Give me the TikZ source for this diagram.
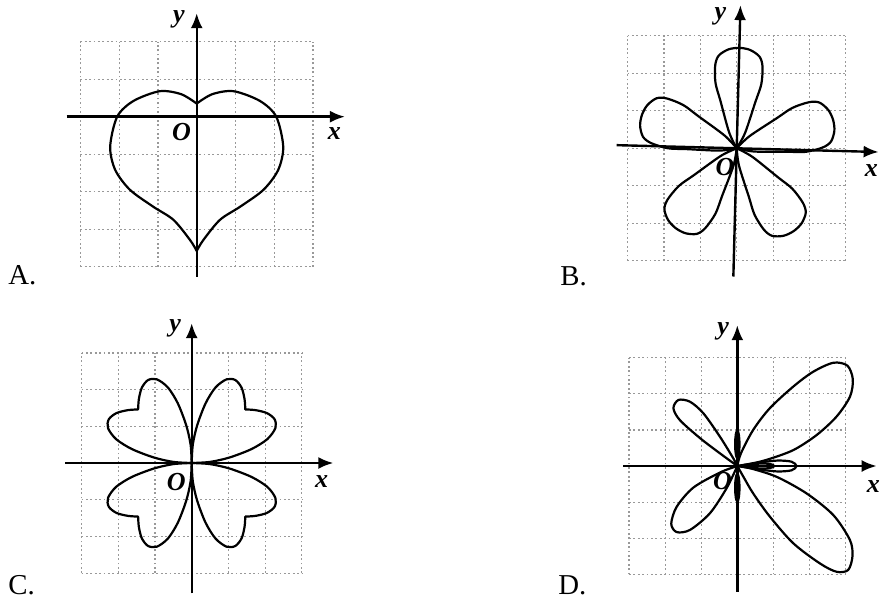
\documentclass[tikz,border=0pt]{standalone}
\usepackage{fontspec}
\setmainfont{Liberation Serif}
\usetikzlibrary{arrows.meta}

\tikzset{
  gridline/.style={black!40, line width=0.6pt, dash pattern=on 0.9pt off 1.3pt},
  axis/.style={line width=1.2pt, -{Latex[length=7.5pt,width=6pt]}},
  curve/.style={line width=1.1pt, line cap=round, line join=round},
  axlabel/.style={font=\fontsize{13}{14}\selectfont\bfseries\itshape, inner sep=0pt},
  choice/.style={font=\fontsize{14.4}{16}\selectfont, anchor=base west, inner sep=0pt}
}

\begin{document}
\begin{tikzpicture}
\useasboundingbox (0,0) rectangle (440.5pt,303pt);

% A: heart
\begin{scope}[shift={(98.35pt,244.65pt)}, x=19.4pt, y=18.75pt]
  \draw[gridline, step=1] (-3,-4) grid (3,2);
  \draw[axis] (-3.35,0) -- (3.82,0);
  \draw[axis] (0,-4.27) -- (0,2.76);
  \foreach \s in {1,-1}
    \draw[curve, xscale=\s] plot[smooth] coordinates {(0,-3.58) (-0.17,-3.29) (-0.6,-2.75) (-1.12,-2.4) (-1.72,-1.95) (-2.1,-1.42) (-2.23,-0.8) (-2.05,0) (-1.63,0.42) (-0.95,0.68) (-0.4,0.6) (0,0.35)};
  \node[axlabel] (yA) at (-0.46,2.6) {y};
  \node[axlabel] (oA) at (-0.39,-0.4) {O};
  \node[axlabel] (xA) at (3.55,-0.44) {x};
\end{scope}

% B: five petals
\begin{scope}[shift={(368.35pt,228.85pt)}, x=18.2pt, y=18.75pt]
  \draw[gridline, step=1] (-3,-3) grid (3,3);
  \begin{scope}[rotate=-1.5]
    \draw[axis] (-3.3,0) -- (3.9,0);
    \draw[axis] (0,-3.42) -- (0,3.82);
    \foreach \a in {0,72,144,216,288}
      \draw[curve, rotate=\a] plot[smooth] coordinates {(0,0) (0.22,0.42) (0.48,1.25) (0.63,1.73) (0.65,2.2) (0.56,2.46) (0.3,2.63) (0,2.68) (-0.3,2.63) (-0.56,2.46) (-0.65,2.2) (-0.63,1.73) (-0.48,1.25) (-0.22,0.42) (0,0)};
  \end{scope}
  \node[axlabel] (yB) at (-0.45,3.52) {y};
  \node[axlabel] (oB) at (-0.32,-0.49) {O};
  \node[axlabel] (xB) at (3.7,-0.6) {x};
\end{scope}

% C: four hearts
\begin{scope}[shift={(95.85pt,71.5pt)}, x=18.35pt, y=18.35pt]
  \draw[gridline, step=1] (-3,-3) grid (3,3);
  \draw[axis] (-3.45,0) -- (3.86,0);
  \draw[axis] (0,-3.55) -- (0,3.81);
  \foreach \sx/\sy in {1/1,-1/1,-1/-1,1/-1}
    \draw[curve, xscale=\sx, yscale=\sy]
      plot[smooth] coordinates {(0,0) (0.03,0.5) (0.15,1.03) (0.38,1.63) (0.65,2.06) (0.95,2.28) (1.19,2.26) (1.36,2.05) (1.44,1.74) (1.46,1.46)}
      plot[smooth] coordinates {(1.46,1.46) (1.74,1.44) (2.05,1.36) (2.26,1.19) (2.28,0.95) (2.06,0.65) (1.63,0.38) (1.03,0.15) (0.5,0.03) (0,0)};
  \node[axlabel] (yC) at (-0.45,3.67) {y};
  \node[axlabel] (oC) at (-0.42,-0.51) {O};
  \node[axlabel] (xC) at (3.54,-0.51) {x};
\end{scope}

% D: uneven petals
\begin{scope}[shift={(368.65pt,70pt)}, x=18.05pt, y=18.05pt]
  \draw[gridline, step=1] (-3,-3) grid (3,3);
  \draw[axis] (-3.16,0) -- (3.86,0);
  \draw[axis] (0,-3.49) -- (0,3.9);
  \draw[curve] plot[smooth] coordinates {(0,0) (0.1,0.35) (0.44,1.0) (0.9,1.6) (1.55,2.2) (2.1,2.61) (2.66,2.86) (3.05,2.78) (3.2,2.4) (3.12,1.92) (2.75,1.37) (2.2,0.86) (1.55,0.44) (0.81,0.17) (0.35,0.06) (0,0)};
  \draw[curve] plot[smooth] coordinates {(0,0) (0.17,-0.3) (0.44,-0.76) (0.9,-1.4) (1.55,-2.14) (2.29,-2.7) (2.75,-2.93) (3.07,-2.88) (3.19,-2.5) (3.12,-2.05) (2.66,-1.36) (1.92,-0.76) (1.09,-0.3) (0.35,-0.06) (0,0)};
  \draw[curve] plot[smooth] coordinates {(0,0) (-0.48,0.35) (-1.03,0.77) (-1.59,1.27) (-1.77,1.6) (-1.63,1.83) (-1.31,1.78) (-0.94,1.46) (-0.48,0.81) (-0.11,0.21) (0,0)};
  \draw[curve] plot[smooth] coordinates {(0,0) (-0.48,-0.18) (-1.22,-0.6) (-1.68,-1.13) (-1.83,-1.6) (-1.68,-1.83) (-1.31,-1.77) (-0.76,-1.31) (-0.3,-0.62) (0,0)};
  % small loops near the origin
  \draw[curve] plot[smooth] coordinates {(0,0) (0.5,0.08) (1.1,0.15) (1.5,0.12) (1.64,0) (1.5,-0.12) (1.1,-0.15) (0.5,-0.08) (0,0)};
  \draw[curve] (0.7,0) ellipse (0.32 and 0.07);
  \draw[curve] (0,0.6) ellipse (0.06 and 0.38);
  \draw[curve] (0,-0.6) ellipse (0.06 and 0.38);
  \node[axlabel] (yD) at (-0.39,3.72) {y};
  \node[axlabel] (oD) at (-0.41,-0.41) {O};
  \node[axlabel] (xD) at (3.77,-0.57) {x};
\end{scope}

% choices
\node[choice] (labA) at (4pt,161pt) {A.};
\node[choice] (labB) at (280pt,160.5pt) {B.};
\node[choice] (labC) at (4pt,6pt) {C.};
\node[choice] (labD) at (279pt,6pt) {D.};
\end{tikzpicture}
\end{document}
